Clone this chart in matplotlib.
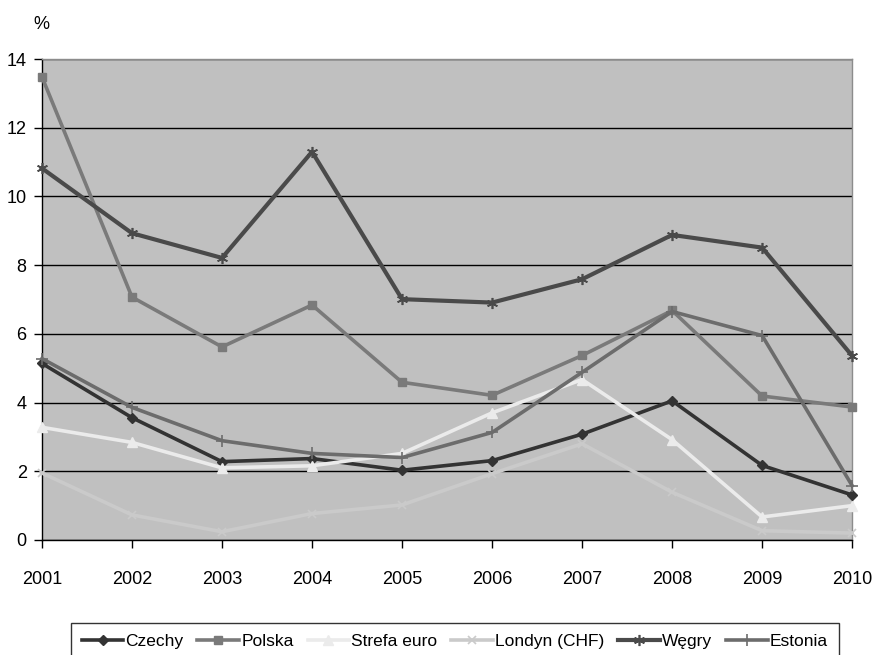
import matplotlib
matplotlib.use("Agg")
import matplotlib.pyplot as plt

years = [2001, 2002, 2003, 2004, 2005, 2006, 2007, 2008, 2009, 2010]
czechy = [5.14, 3.56, 2.28, 2.37, 2.03, 2.31, 3.08, 4.05, 2.17, 1.31]
polska = [13.48, 7.07, 5.62, 6.84, 4.59, 4.21, 5.37, 6.68, 4.19, 3.87]
strefa_euro = [3.28, 2.84, 2.10, 2.16, 2.52, 3.70, 4.67, 2.92, 0.67, 1.00]
londyn_chf = [1.95, 0.73, 0.24, 0.77, 1.02, 1.93, 2.80, 1.39, 0.27, 0.20]
wegry = [10.82, 8.93, 8.21, 11.30, 7.01, 6.91, 7.59, 8.88, 8.51, 5.36]
estonia = [5.28, 3.86, 2.89, 2.52, 2.40, 3.13, 4.88, 6.65, 5.95, 1.58]

series_names = ["Czechy", "Polska", "Strefa euro", "Londyn (CHF)", "Węgry", "Estonia"]
yticks = [0, 2, 4, 6, 8, 10, 12, 14]

plt.rcParams["font.family"] = ["Liberation Sans", "DejaVu Sans"]

fig = plt.figure(figsize=(8.74, 6.55), dpi=100)
ax = fig.add_axes([0.048, 0.1756, 0.927, 0.7343])
ax.set_facecolor("#c0c0c0")

styles = [
    dict(color="#333333", marker="D", ms=5, lw=2.6),
    dict(color="#7a7a7a", marker="s", ms=6, lw=2.6),
    dict(color="#ebebeb", marker="^", ms=7, lw=2.6),
    dict(color="#cacaca", marker="x", ms=6, mew=1.2, lw=2.6),
    dict(color="#4a4a4a", marker=(6, 2, 0), ms=8, mew=1.2, lw=3.0),
    dict(color="#6c6c6c", marker="+", ms=8, mew=1.2, lw=2.6),
]
data = [czechy, polska, strefa_euro, londyn_chf, wegry, estonia]

for name, vals, st in zip(series_names, data, styles):
    ax.plot(years, vals, label=name, clip_on=False, zorder=3, **st)

ax.set_xlim(2001, 2010)
ax.set_ylim(0, 14)
ax.set_yticks(yticks)
ax.set_xticks(years)
ax.grid(axis="y", color="black", lw=1.0, zorder=1)
ax.set_axisbelow(True)

for side in ("top", "right"):
    ax.spines[side].set_color("#8c8c8c")
    ax.spines[side].set_linewidth(1.0)
for side in ("left", "bottom"):
    ax.spines[side].set_color("black")
    ax.spines[side].set_linewidth(1.0)

ax.tick_params(axis="both", direction="out", length=6, width=1, colors="black",
               labelsize=13)
ax.tick_params(axis="x", pad=16)
ax.tick_params(axis="y", pad=5)

fig.text(0.047, 0.963, "%", fontsize=13, ha="center", va="center")

leg = fig.legend(loc="upper left", bbox_to_anchor=(0.0812, 0.0489), ncol=6,
                 fontsize=12.5, frameon=True, fancybox=False, edgecolor="black",
                 handlelength=2.4, handletextpad=0.12, columnspacing=0.8,
                 borderpad=0.62, borderaxespad=0.0)
leg.get_frame().set_linewidth(1.0)

fig.savefig("out.png", dpi=100)
